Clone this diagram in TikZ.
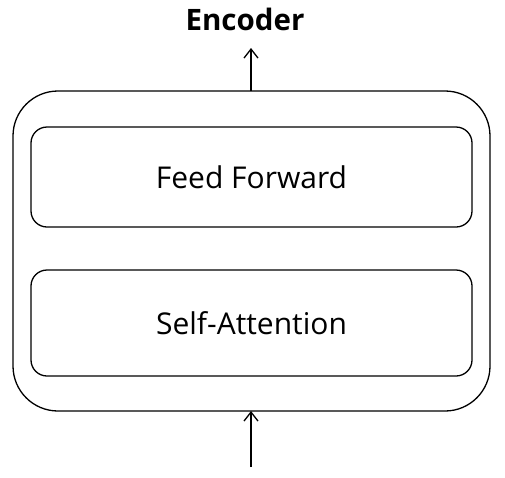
\documentclass[tikz,border=0pt]{standalone}
\usepackage{fontspec}
\setmainfont{Open Sans}
\usetikzlibrary{arrows.meta}
\begin{document}
\begin{tikzpicture}[x=1pt,y=-1pt,
  outerbox/.style={draw,line width=1.3pt,rounded corners=45pt},
  innerbox/.style={draw,line width=1.3pt,rounded corners=16pt},
  lbl/.style={font=\fontsize{30}{34}\selectfont},
  conn/.style={line width=1.3pt,-{Straight Barb[length=9pt,width=14pt,line width=1.3pt]}}]
\useasboundingbox (0,0) rectangle (505,477);
\draw[outerbox] (13,91) rectangle (490,411);
\node[innerbox,minimum width=441pt,minimum height=100pt] (ff) at (251.5,177) {};
\node[lbl] at (ff.center) {Feed Forward};
\node[innerbox,minimum width=441pt,minimum height=106pt] (sa) at (251.5,323) {};
\node[lbl] at (sa.center) {Self-Attention};
\coordinate (topin) at (251,91);
\coordinate (topout) at (251,48);
\coordinate (botin) at (251,467);
\coordinate (botout) at (251,411);
\draw[conn] (topin) -- (topout);
\draw[conn] (botin) -- (botout);
\node[font=\fontsize{29.5}{32}\selectfont\bfseries] (enc) at (245,19) {Encoder};
\end{tikzpicture}
\end{document}
